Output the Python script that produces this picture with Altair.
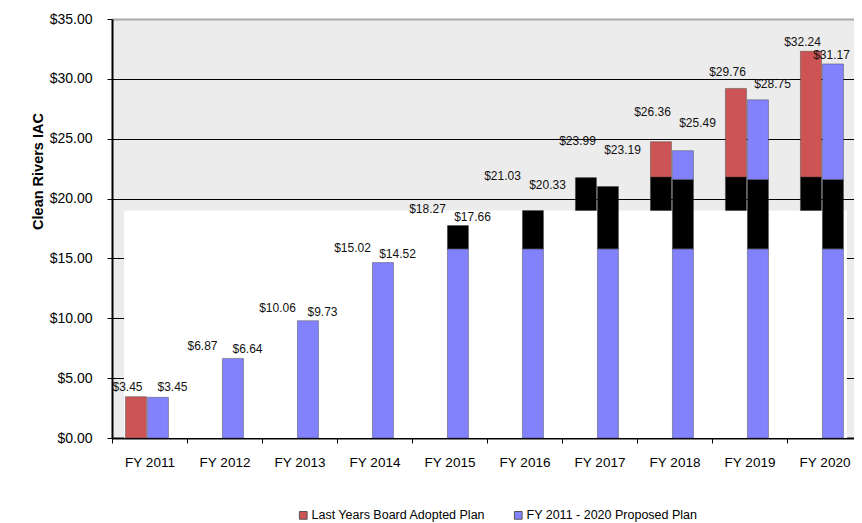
import altair as alt
import pandas as pd

# ---------------- data ----------------
years = ["FY 2011", "FY 2012", "FY 2013", "FY 2014", "FY 2015",
         "FY 2016", "FY 2017", "FY 2018", "FY 2019", "FY 2020"]

adopted_values = [3.45, 6.87, 10.06, 15.02, 18.27, 21.03, 23.99, 26.36, 29.76, 32.24]
proposed_values = [3.45, 6.64, 9.73, 14.52, 17.66, 20.33, 23.19, 25.49, 28.75, 31.17]

ADOPTED = "Last Years Board Adopted Plan"
PROPOSED = "FY 2011 - 2020  Proposed Plan"
OVERLAP = "overlap"

# bar segments as they are drawn in the picture
adopted_seg_year = ["FY 2011", "FY 2017", "FY 2018", "FY 2018", "FY 2019", "FY 2019", "FY 2020", "FY 2020"]
adopted_seg_from = [0.0, 19.0, 19.0, 21.8, 19.0, 21.8, 19.0, 21.8]
adopted_seg_to = [3.45, 21.75, 21.8, 24.75, 21.8, 29.2, 21.8, 32.3]
adopted_seg_kind = [ADOPTED, OVERLAP, OVERLAP, ADOPTED, OVERLAP, ADOPTED, OVERLAP, ADOPTED]

proposed_seg_year = ["FY 2011", "FY 2012", "FY 2013", "FY 2014", "FY 2015", "FY 2015",
                     "FY 2016", "FY 2016", "FY 2017", "FY 2017",
                     "FY 2018", "FY 2018", "FY 2018", "FY 2019", "FY 2019", "FY 2019",
                     "FY 2020", "FY 2020", "FY 2020"]
proposed_seg_from = [0, 0, 0, 0, 0, 15.8, 0, 15.8, 0, 15.8, 0, 15.8, 21.6, 0, 15.8, 21.6, 0, 15.8, 21.6]
proposed_seg_to = [3.4, 6.65, 9.8, 14.65, 15.8, 17.75, 15.8, 19.0, 15.8, 21.0,
                   15.8, 21.6, 24.0, 15.8, 21.6, 28.25, 15.8, 21.6, 31.25]
proposed_seg_kind = [PROPOSED, PROPOSED, PROPOSED, PROPOSED, PROPOSED, OVERLAP, PROPOSED, OVERLAP,
                     PROPOSED, OVERLAP, PROPOSED, OVERLAP, PROPOSED, PROPOSED, OVERLAP, PROPOSED,
                     PROPOSED, OVERLAP, PROPOSED]

# ---------------- tables ----------------
segments = pd.concat([
    pd.DataFrame({"year": adopted_seg_year, "series": "a", "y0": adopted_seg_from,
                  "y1": adopted_seg_to, "kind": adopted_seg_kind}),
    pd.DataFrame({"year": proposed_seg_year, "series": "b", "y0": proposed_seg_from,
                  "y1": proposed_seg_to, "kind": proposed_seg_kind}),
], ignore_index=True)

labels_a = pd.DataFrame({"year": years, "v": adopted_values})
labels_a["txt"] = labels_a["v"].map(lambda v: f"${v:.2f}")
labels_b = pd.DataFrame({"year": years, "v": proposed_values})
labels_b["txt"] = labels_b["v"].map(lambda v: f"${v:.2f}")

FONT = "Liberation Sans, Arial, sans-serif"

# the reference's plot runs past the right edge of the window: the band scale spans 750px
# while only 742px of it fit on the page
x_scale = alt.Scale(domain=years, paddingInner=0, paddingOuter=0, range=[0, 750])
y_scale = alt.Scale(domain=[0, 35], nice=False, zero=True)

x_axis = alt.Axis(title=None, domainColor="black", domainWidth=2, tickColor="black",
                  tickSize=5, tickBand="extent", labelFont=FONT, labelFontSize=13.5,
                  labelColor="black", labelPadding=12, labelAngle=0, grid=False)
y_axis = alt.Axis(title="Clean Rivers IAC", values=[0, 5, 10, 15, 20, 25, 30, 35],
                  format="$.2f", domainColor="black", domainWidth=2, tickColor="black",
                  tickSize=5, labelFont=FONT, labelFontSize=14, labelColor="black",
                  labelPadding=15, grid=True,
                  gridColor={"condition": {"test": "datum.value >= 35", "value": "#aaaaaa"},
                             "value": "black"},
                  gridWidth={"condition": {"test": "datum.value >= 35", "value": 2},
                             "value": 1},
                  titleFont=FONT, titleFontSize=14.5,
                  titleFontWeight="bold", titleColor="black", titleAngle=-90,
                  titleX=-74, titleY=152, titleAlign="center", titleBaseline="middle")

panel = alt.Chart(pd.DataFrame({"a": [0]})).mark_rect(color="white").encode(
    x=alt.value(12), x2=alt.value(735),
    y=alt.datum(0, scale=y_scale), y2=alt.datum(19),
)

bars = alt.Chart(segments).mark_bar(stroke="#333333", strokeWidth=1, strokeOpacity=0.4).encode(
    x=alt.X("year:N", scale=x_scale, axis=x_axis, sort=years),
    xOffset=alt.XOffset("series:N", scale=alt.Scale(domain=["a", "b"], paddingInner=0.045,
                                                     paddingOuter=0.727, align=0.42)),
    y=alt.Y("y0:Q", scale=y_scale, axis=y_axis),
    y2="y1:Q",
    color=alt.Color("kind:N",
                    scale=alt.Scale(domain=[ADOPTED, PROPOSED, OVERLAP],
                                    range=["#CD5454", "#8282FF", "#000000"]),
                    legend=alt.Legend(values=[ADOPTED, PROPOSED], title=None, orient="none",
                                      legendX=185, legendY=490, direction="horizontal",
                                      symbolType="square", symbolSize=60,
                                      symbolStrokeColor="#555555", symbolStrokeWidth=1,
                                      labelFont=FONT, labelFontSize=12.5, labelColor="black",
                                      labelLimit=0, columnPadding=26, labelOffset=2)),
)

text_a = alt.Chart(labels_a).mark_text(font=FONT, fontSize=12, color="#111111",
                                       baseline="bottom", dx=-22, dy=-3).encode(
    x=alt.X("year:N", scale=x_scale, sort=years),
    y=alt.Y("v:Q", scale=y_scale),
    text="txt:N",
)
# the last label sits at the window edge in the reference; keep it inside the page
text_b = alt.Chart(labels_b).mark_text(
    font=FONT, fontSize=12, color="#111111", baseline="bottom", dy=-3,
    dx=alt.ExprRef(f"datum.year == '{years[-1]}' ? 7 : 23"),
).encode(
    x=alt.X("year:N", scale=x_scale, sort=years),
    y=alt.Y("v:Q", scale=y_scale),
    text="txt:N",
)

chart = alt.layer(panel, bars, text_a, text_b).properties(
    width=742, height=419,
    background="white",
    autosize=alt.AutoSizeParams(type="none"),
    padding={"left": 104, "top": 11, "right": 0, "bottom": 85},
).configure_view(fill="#ECECEC", stroke=None)

chart.save("out.html", embed_options={"renderer": "svg", "actions": False})
